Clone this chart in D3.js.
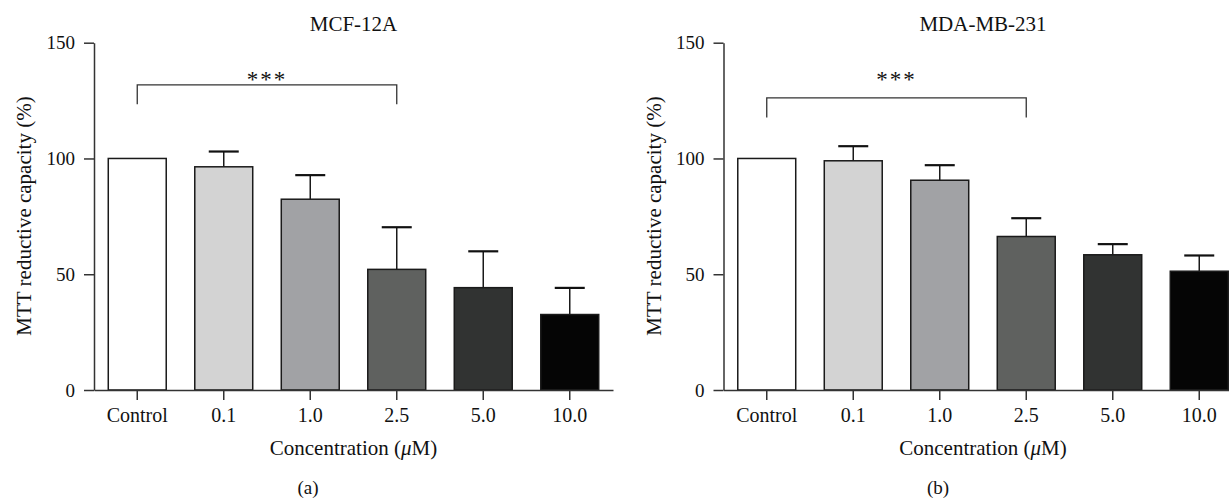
<!DOCTYPE html>
<html>
<head>
<meta charset="utf-8">
<script src="https://cdn.jsdelivr.net/npm/d3@7"></script>
<style>
  body { margin: 0; background: #fff; }
  text { font-family: 'Liberation Serif', 'Times New Roman', serif; fill: #111; }
</style>
</head>
<body>
<div id="chart"></div>
<script>
const categories = ['Control', '0.1', '1.0', '2.5', '5.0', '10.0']
const barColors = ['#ffffff', '#d3d3d3', '#a1a2a5', '#5f615f', '#313332', '#050505']
const yTicks = [0, 50, 100, 150]

const mcfMeans = [100, 96.4, 82.4, 52.1, 44.2, 32.6]
const mcfErr = [0, 6.6, 10.4, 18.2, 15.7, 11.5]
const mcfBracket = [131.8, 123.4]

const mdaMeans = [100, 99.0, 90.6, 66.3, 58.4, 51.3]
const mdaErr = [0, 6.3, 6.5, 7.9, 4.6, 6.8]
const mdaBracket = [126.2, 117.7]

const starsLevel = 137

const panels = [
  { title: 'MCF-12A', label: '(a)', labelX: 308, left: 94, means: mcfMeans, err: mcfErr, bracket: mcfBracket },
  { title: 'MDA-MB-231', label: '(b)', labelX: 938, left: 723.5, means: mdaMeans, err: mdaErr, bracket: mdaBracket }
]

const width = 1229
const height = 499
const plotW = 519
const plotTop = 42.7
const plotBottom = 390

const svg = d3
  .select('#chart')
  .append('svg')
  .attr('width', width)
  .attr('height', height)

const y = d3.scaleLinear().domain([0, 150]).range([plotBottom, plotTop])

panels.forEach(function(p) {
  const g = svg.append('g').attr('transform', `translate(${p.left},0)`)

  const x = d3
    .scaleBand()
    .domain(categories)
    .range([0, plotW])
    .paddingInner(0.33)
    .paddingOuter(0.165)

  // bars
  g.selectAll('.bar')
    .data(p.means)
    .enter()
    .append('rect')
    .attr('class', 'bar')
    .attr('x', (d, i) => x(categories[i]))
    .attr('y', d => y(d))
    .attr('width', x.bandwidth())
    .attr('height', d => plotBottom - y(d))
    .attr('fill', (d, i) => barColors[i])
    .attr('stroke', '#1a1a1a')
    .attr('stroke-width', 1.5)

  // error bars (upper only)
  const errs = p.means
    .map((d, i) => ({ cat: categories[i], mean: d, err: p.err[i] }))
    .filter(d => d.err > 0)

  g.selectAll('.whisker')
    .data(errs)
    .enter()
    .append('line')
    .attr('x1', d => x(d.cat) + x.bandwidth() / 2)
    .attr('x2', d => x(d.cat) + x.bandwidth() / 2)
    .attr('y1', d => y(d.mean))
    .attr('y2', d => y(d.mean + d.err))
    .attr('stroke', '#1a1a1a')
    .attr('stroke-width', 1.5)

  g.selectAll('.cap')
    .data(errs)
    .enter()
    .append('line')
    .attr('x1', d => x(d.cat) + x.bandwidth() / 2 - 15)
    .attr('x2', d => x(d.cat) + x.bandwidth() / 2 + 15)
    .attr('y1', d => y(d.mean + d.err))
    .attr('y2', d => y(d.mean + d.err))
    .attr('stroke', '#111')
    .attr('stroke-width', 2.2)

  // axes
  const yAxis = d3.axisLeft(y).tickValues(yTicks).tickSize(10).tickSizeOuter(0).tickPadding(9)
  const xAxis = d3.axisBottom(x).tickSize(10).tickSizeOuter(0).tickPadding(8)

  g.append('g')
    .attr('transform', `translate(0,${plotBottom})`)
    .call(xAxis)
    .call(a => a.selectAll('text').attr('font-size', 20))

  g.append('g')
    .call(yAxis)
    .call(a => a.selectAll('text').attr('font-size', 19))

  g.selectAll('.domain, .tick line').attr('stroke', '#333').attr('stroke-width', 1.5)
  g.selectAll('.tick text').attr('fill', '#111').style('font-family', "'Liberation Serif', serif")

  // significance bracket
  const bx1 = x(categories[0]) + x.bandwidth() / 2
  const bx2 = x(categories[3]) + x.bandwidth() / 2
  g.append('path')
    .attr('d', `M${bx1},${y(p.bracket[1])}V${y(p.bracket[0])}H${bx2}V${y(p.bracket[1])}`)
    .attr('fill', 'none')
    .attr('stroke', '#333')
    .attr('stroke-width', 1.3)

  g.append('text')
    .text('***')
    .attr('x', (bx1 + bx2) / 2)
    .attr('y', y(starsLevel))
    .attr('dy', '0.6em')
    .attr('text-anchor', 'middle')
    .attr('font-size', 23)
    .attr('letter-spacing', 2)

  // titles
  g.append('text')
    .text(p.title)
    .attr('x', plotW / 2)
    .attr('y', 31)
    .attr('text-anchor', 'middle')
    .attr('font-size', 21)

  g.append('text')
    .attr('x', plotW / 2)
    .attr('y', 455)
    .attr('text-anchor', 'middle')
    .attr('font-size', 21)
    .html('Concentration (<tspan font-style="italic">μ</tspan>M)')

  g.append('text')
    .text('MTT reductive capacity (%)')
    .attr('transform', `translate(-70,216) rotate(-90)`)
    .attr('dy', '0.35em')
    .attr('text-anchor', 'middle')
    .attr('font-size', 21)

  svg.append('text')
    .text(p.label)
    .attr('x', p.labelX)
    .attr('y', 494)
    .attr('text-anchor', 'middle')
    .attr('font-size', 19)
})
</script>
</body>
</html>
